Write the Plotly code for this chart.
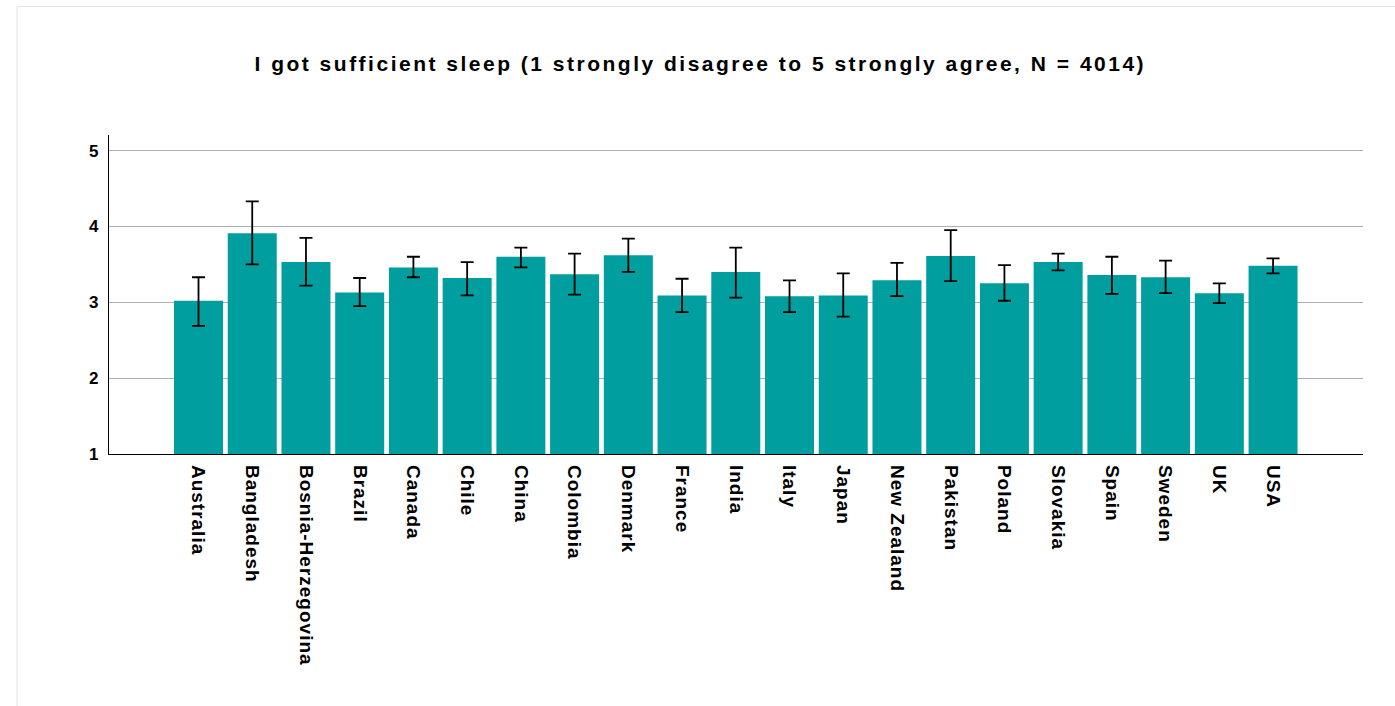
import plotly.graph_objects as go

countries = ["Australia", "Bangladesh", "Bosnia-Herzegovina", "Brazil", "Canada", "Chile",
             "China", "Colombia", "Denmark", "France", "India", "Italy", "Japan",
             "New Zealand", "Pakistan", "Poland", "Slovakia", "Spain", "Sweden", "UK", "USA"]
mean_score = [3.02, 3.91, 3.53, 3.13, 3.46, 3.32, 3.60, 3.37, 3.62, 3.09, 3.40, 3.08, 3.09,
              3.29, 3.61, 3.25, 3.53, 3.36, 3.33, 3.12, 3.48]
ci_upper = [3.33, 4.33, 3.85, 3.32, 3.60, 3.53, 3.72, 3.64, 3.84, 3.31, 3.72, 3.29, 3.38,
            3.52, 3.95, 3.49, 3.64, 3.60, 3.55, 3.25, 3.58]
ci_lower = [2.69, 3.50, 3.22, 2.95, 3.33, 3.09, 3.46, 3.10, 3.40, 2.87, 3.06, 2.87, 2.81,
            3.08, 3.28, 3.02, 3.42, 3.11, 3.12, 2.99, 3.38]
y_ticks = [1, 2, 3, 4, 5]
title_text = "I got sufficient sleep (1 strongly disagree to 5 strongly agree, N = 4014)"

err_plus = [round(u - m, 3) for u, m in zip(ci_upper, mean_score)]
err_minus = [round(m - l, 3) for m, l in zip(mean_score, ci_lower)]

FONT = "Liberation Sans, Arial, Helvetica, sans-serif"

fig = go.Figure()
fig.add_trace(go.Bar(
    x=list(range(len(countries))),
    y=mean_score,
    marker=dict(color="#009e9f", line=dict(width=0)),
    error_y=dict(type="data", symmetric=False, array=err_plus, arrayminus=err_minus,
                 color="black", thickness=1.8, width=6.5),
    hoverinfo="x+y",
))

fig.update_layout(
    width=1395, height=706,
    margin=dict(l=109, r=32, t=135, b=252, autoexpand=False),
    paper_bgcolor="white", plot_bgcolor="white",
    bargap=0.088,
    showlegend=False,
    title=dict(text="<b>" + title_text + "</b>", x=0.502, xref="container", xanchor="center",
               y=0.91, yref="container", yanchor="middle",
               font=dict(family=FONT, size=21, color="black")),
    xaxis=dict(
        range=[-1.666, 21.674],
        tickmode="array", tickvals=list(range(len(countries))),
        ticktext=["<b>" + c + "</b>" for c in countries],
        tickangle=90, ticks="", showgrid=False, zeroline=False,
        showline=True, linecolor="black", linewidth=1.3,
        tickfont=dict(family=FONT, size=19, color="black"),
        ticklabelstandoff=6,
        layer="below traces",
    ),
    yaxis=dict(
        range=[1, 5.205],
        tickmode="array", tickvals=y_ticks,
        ticktext=["<b>%d</b>" % v for v in y_ticks],
        ticks="", showgrid=True, gridcolor="#b0b0b0", gridwidth=1.2,
        zeroline=False, showline=True, linecolor="black", linewidth=1.3,
        tickfont=dict(family=FONT, size=17, color="black"),
        ticklabelstandoff=6,
    ),
    shapes=[dict(type="rect", xref="paper", yref="paper",
                 x0=(17 - 109) / 1254, x1=1.2, y0=-1.5, y1=1 + (135 - 6.5) / 319,
                 line=dict(color="#dfe5eb", width=1), fillcolor="rgba(0,0,0,0)",
                 layer="below")],
)

post = """
document.body.style.margin = '0';
document.body.style.overflow = 'hidden';
var gd = document.getElementById('{plot_id}');
function spacing(){
  gd.querySelectorAll('.xtick text').forEach(function(t){ t.style.letterSpacing='1px'; });
  gd.querySelectorAll('.gtitle').forEach(function(t){ t.style.letterSpacing='2.5px'; });
}
spacing();
gd.on('plotly_afterplot', spacing);
"""

fig.write_html("out.html", post_script=post, config={"displayModeBar": False})
